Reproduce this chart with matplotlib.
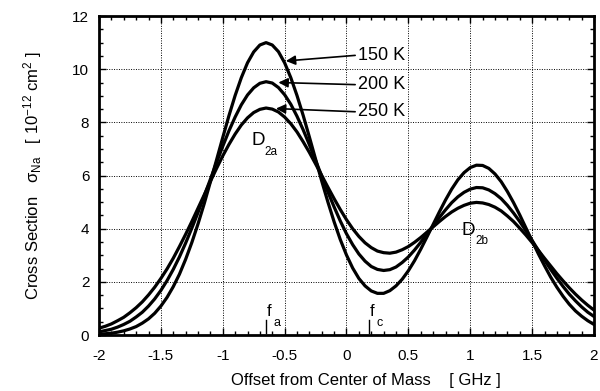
import numpy as np
import matplotlib
matplotlib.use("Agg")
import matplotlib.pyplot as plt

plt.rcParams['font.family'] = ['Liberation Sans', 'DejaVu Sans']
plt.rcParams['mathtext.fontset'] = 'custom'
plt.rcParams['mathtext.rm'] = 'Liberation Sans'
plt.rcParams['mathtext.it'] = 'Liberation Sans:italic'

# offset from center of mass [GHz], sampled every 0.05
offset = np.round(np.arange(-2, 2.0001, 0.05), 2)

# cross section [1e-12 cm^2]
sigma_150 = [0.03, 0.05, 0.07, 0.11, 0.16, 0.23, 0.32, 0.45, 0.61, 0.82, 1.09, 1.42, 1.82, 2.29, 2.85, 3.48,
             4.18, 4.94, 5.76, 6.59, 7.43, 8.25, 9.01, 9.68, 10.24, 10.65, 10.91, 11.00, 10.91, 10.66, 10.24,
             9.68, 9.01, 8.26, 7.45, 6.62, 5.79, 5.00, 4.26, 3.59, 3.01, 2.52, 2.13, 1.85, 1.66, 1.57, 1.57,
             1.67, 1.85, 2.10, 2.42, 2.80, 3.23, 3.69, 4.16, 4.63, 5.08, 5.49, 5.84, 6.11, 6.30, 6.39, 6.38,
             6.27, 6.06, 5.77, 5.40, 4.98, 4.52, 4.03, 3.54, 3.06, 2.61, 2.18, 1.80, 1.46, 1.16, 0.91, 0.71,
             0.54, 0.40]
sigma_200 = [0.12, 0.17, 0.22, 0.30, 0.40, 0.52, 0.68, 0.86, 1.09, 1.36, 1.68, 2.05, 2.47, 2.94, 3.46, 4.02,
             4.61, 5.23, 5.86, 6.49, 7.10, 7.68, 8.20, 8.66, 9.03, 9.30, 9.47, 9.53, 9.48, 9.31, 9.04, 8.68,
             8.23, 7.72, 7.16, 6.57, 5.98, 5.38, 4.82, 4.29, 3.81, 3.40, 3.05, 2.78, 2.58, 2.47, 2.43, 2.46,
             2.56, 2.73, 2.94, 3.20, 3.49, 3.80, 4.11, 4.42, 4.71, 4.98, 5.20, 5.37, 5.49, 5.55, 5.54, 5.46,
             5.32, 5.13, 4.88, 4.59, 4.27, 3.92, 3.56, 3.19, 2.82, 2.47, 2.14, 1.83, 1.54, 1.29, 1.06, 0.86,
             0.70]
sigma_250 = [0.26, 0.33, 0.42, 0.54, 0.67, 0.84, 1.03, 1.25, 1.51, 1.80, 2.13, 2.49, 2.89, 3.33, 3.79, 4.27,
             4.77, 5.27, 5.78, 6.27, 6.74, 7.17, 7.56, 7.90, 8.17, 8.37, 8.49, 8.54, 8.50, 8.39, 8.20, 7.95,
             7.64, 7.27, 6.87, 6.44, 6.00, 5.56, 5.13, 4.72, 4.34, 4.00, 3.71, 3.47, 3.29, 3.16, 3.10, 3.08,
             3.12, 3.21, 3.33, 3.49, 3.67, 3.87, 4.07, 4.27, 4.46, 4.63, 4.77, 4.88, 4.96, 4.99, 4.97, 4.91,
             4.81, 4.67, 4.48, 4.27, 4.02, 3.76, 3.48, 3.19, 2.89, 2.60, 2.31, 2.04, 1.78, 1.54, 1.32, 1.12,
             0.94]

labels = ["150 K", "200 K", "250 K"]
arrow_tips = [(-0.49, 10.31), (-0.55, 9.50), (-0.57, 8.52)]
label_y = [10.52, 9.42, 8.40]

fig = plt.figure(figsize=(6, 3.91), dpi=100)
ax = fig.add_axes([0.165, 0.143, 0.825, 0.816])

for s in (sigma_150, sigma_200, sigma_250):
    ax.plot(offset, s, color='black', lw=2.3, solid_capstyle='round')

# curve labels with arrows
for lab, tip, ly in zip(labels, arrow_tips, label_y):
    ax.annotate("", xy=tip, xytext=(0.07, ly),
                arrowprops=dict(arrowstyle="-|>", color='black', lw=1.2,
                                mutation_scale=14, shrinkA=0, shrinkB=0))
    ax.text(0.09, ly, lab, fontsize=13, va='center', ha='left')

# line labels
ax.text(-0.77, 7.3, "D", fontsize=13.5, va='center', ha='left')
ax.text(-0.66, 6.9, "2a", fontsize=8.5, va='center', ha='left')
ax.text(0.93, 3.95, "D", fontsize=13.5, va='center', ha='left')
ax.text(1.04, 3.55, "2b", fontsize=8.5, va='center', ha='left')

# frequency markers
for fx, sub in ((-0.653, "a"), (0.18, "c")):
    ax.plot([fx, fx], [0.06, 0.56], color='black', lw=1.0)
    ax.text(fx + 0.025, 0.9, "f", fontsize=12, va='center', ha='center')
    ax.text(fx + 0.06, 0.46, sub, fontsize=9, va='center', ha='left')

ax.set_xlim(-2, 2)
ax.set_ylim(0, 12)
ax.set_xticks(np.arange(-2, 2.01, 0.5))
ax.set_xticklabels(["-2", "-1.5", "-1", "-0.5", "0", "0.5", "1", "1.5", "2"])
ax.set_yticks(np.arange(0, 12.1, 2))
ax.set_xticks(np.arange(-2, 2.01, 0.1), minor=True)
ax.set_yticks(np.arange(0, 12.1, 0.5), minor=True)
ax.tick_params(which='both', direction='in', top=True, right=True, labelsize=11, width=1)
ax.tick_params(which='major', length=5)
ax.tick_params(which='minor', length=3)
ax.tick_params(axis='x', which='major', pad=10)
ax.tick_params(axis='y', which='major', pad=7)
ax.grid(True, which='major', linestyle=(0, (1, 1.5)), color='black', lw=0.7)
for sp in ax.spines.values():
    sp.set_linewidth(2)

ax.set_xlabel("Offset from Center of Mass    [ GHz ]", fontsize=12)
ax.xaxis.set_label_coords(0.54, -0.12)
ax.set_ylabel("Cross Section   σ$_{\\rm Na}$   [ 10$^{-12}$ cm$^2$ ]", fontsize=12)
ax.yaxis.set_label_coords(-0.112, 0.5)

fig.savefig("out.png", dpi=100)
